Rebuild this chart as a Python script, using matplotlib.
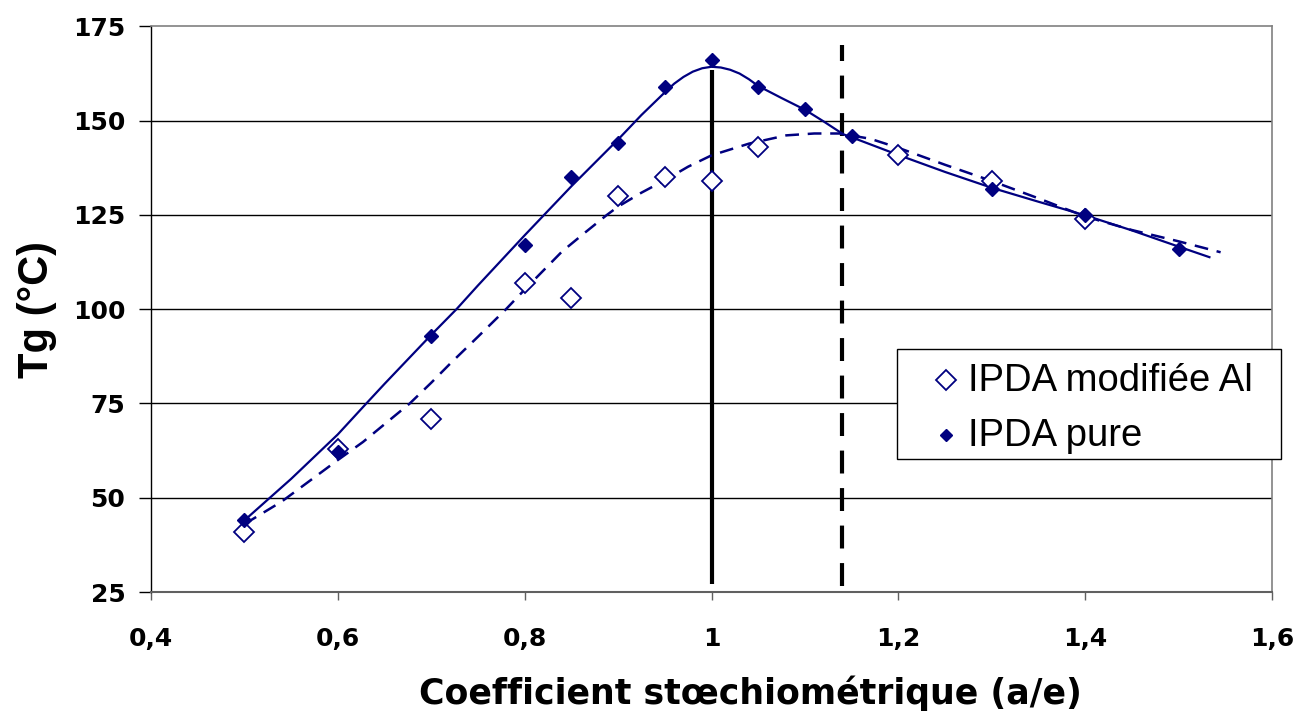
import matplotlib
matplotlib.use("Agg")
import matplotlib.pyplot as plt
from matplotlib.lines import Line2D
from matplotlib.patches import Rectangle

plt.rcParams['font.family'] = ['Liberation Sans', 'DejaVu Sans']

# Measured points
x_pure = [0.5, 0.6, 0.7, 0.8, 0.85, 0.9, 0.95, 1.0, 1.05, 1.1, 1.15, 1.3, 1.4, 1.5]
y_pure = [44, 62, 93, 117, 135, 144, 159, 166, 159, 153, 146, 132, 125, 116]
x_mod = [0.5, 0.6, 0.7, 0.8, 0.85, 0.9, 0.95, 1.0, 1.05, 1.2, 1.3, 1.4]
y_mod = [41, 63, 71, 107, 103, 130, 135, 134, 143, 141, 134, 124]

# Fitted trend curves
x_fit_pure = [0.5, 0.55, 0.6, 0.629, 0.65, 0.7, 0.727, 0.75, 0.8, 0.82, 0.85, 0.9, 0.925,
              0.95, 0.96, 0.97, 0.98, 0.99, 1.0, 1.01, 1.02, 1.03, 1.04, 1.05, 1.075,
              1.1, 1.12, 1.141, 1.15, 1.2, 1.25, 1.3, 1.35, 1.4, 1.45, 1.5, 1.533]
y_fit_pure = [44, 55.0, 66.8, 74.6, 80.2, 93.2, 100, 106.3, 119.6, 124.8, 132.6, 145, 151.5,
              157.5, 159.8, 161.6, 163.0, 163.9, 164.3, 164.1, 163.5, 162.5, 161.0, 159.2, 156.0,
              152.9, 149.8, 146.4, 145.6, 140.9, 136.4, 132.2, 128.5, 124.9, 120.9, 116.6, 113.8]
x_fit_mod = [0.5, 0.54, 0.6, 0.627, 0.65, 0.677, 0.7, 0.72, 0.75, 0.78, 0.8, 0.84, 0.865,
             0.888, 0.9, 0.925, 0.95, 0.975, 1.0, 1.04, 1.08, 1.11, 1.137, 1.17, 1.2, 1.25,
             1.3, 1.35, 1.4, 1.45, 1.5, 1.545]
y_fit_mod = [43, 49, 60, 64.8, 69.5, 75, 80.5, 85.5, 92.7, 100, 105.2, 115.3, 120.4,
             125, 127.2, 130.9, 134.2, 137.8, 140.8, 143.9, 146.1, 146.6, 146.6, 145.2, 142.8, 138.3,
             134, 129.4, 124.6, 121, 118, 115.1]

# Reference vertical lines
x_stoich = 1.0
y_stoich = [27, 163.5]
x_shift = 1.14
y_shift = [26.5, 170]

x_ticks = [0.4, 0.6, 0.8, 1.0, 1.2, 1.4, 1.6]
x_tick_labels = ['0,4', '0,6', '0,8', '1', '1,2', '1,4', '1,6']
y_ticks = [25, 50, 75, 100, 125, 150, 175]

legend_labels = ['IPDA modifiée Al', 'IPDA pure']

navy = '#000080'
W, H = 1299, 715

fig = plt.figure(figsize=(W / 100, H / 100), dpi=100)
ax = fig.add_axes([151 / W, 1 - 592 / H, (1272 - 151) / W, (592 - 26.4) / H])

ax.set_xlim(0.4, 1.6)
ax.set_ylim(25, 175)

for yv in y_ticks[1:-1]:
    ax.axhline(yv, color='black', lw=1.0, zorder=1)

ax.plot(x_fit_pure, y_fit_pure, color=navy, lw=1.6, zorder=3, solid_joinstyle='round')
ax.plot(x_fit_mod, y_fit_mod, color=navy, lw=1.8, ls=(0, (5.5, 3.5)), zorder=3)

ax.plot([x_stoich, x_stoich], y_stoich, color='black', lw=3.0, zorder=2, solid_capstyle='butt')
ax.plot([x_shift, x_shift], y_shift, color='black', lw=3.0, ls=(0, (5.5, 3.5)), zorder=2)

ax.plot(x_mod, y_mod, ls='none', marker='D', ms=10, mfc='white', mec=navy, mew=1.3, zorder=4)
ax.plot(x_pure, y_pure, ls='none', marker='D', ms=7.2, mfc=navy, mec=navy, mew=1, zorder=5)

ax.set_xticks(x_ticks)
ax.set_xticklabels(x_tick_labels)
ax.set_yticks(y_ticks)

for s in ['top', 'right']:
    ax.spines[s].set_color('#808080')
    ax.spines[s].set_linewidth(1.2)
ax.spines['bottom'].set_color('#606060')
ax.spines['bottom'].set_linewidth(1.5)
ax.spines['left'].set_color('black')
ax.spines['left'].set_linewidth(1.0)

ax.tick_params(axis='both', direction='out', width=1, labelsize=18, colors='black')
ax.tick_params(axis='x', length=6, pad=19, color='#606060')
ax.tick_params(axis='y', length=8.5, pad=10)
for lab in ax.get_xticklabels() + ax.get_yticklabels():
    lab.set_fontweight('bold')
    lab.set_fontfamily(['DejaVu Sans'])

ax.set_xlabel('Coefficient stœchiométrique (a/e)', fontsize=25, fontweight='bold',
              family=['DejaVu Sans'])
ax.xaxis.set_label_coords((750 - 151) / 1121, (592 - 676) / 566)
ax.set_ylabel('Tg (°C)', fontsize=30, fontweight='bold')
ax.yaxis.set_label_coords((57 - 151) / 1121, 0.5)

# Legend (drawn as a framed box with markers and text)
bx0, by0, bx1, by1 = 897, 349, 1281, 459
fig.patches.append(Rectangle((bx0 / W, 1 - by1 / H), (bx1 - bx0) / W, (by1 - by0) / H,
                             transform=fig.transFigure, facecolor='white', edgecolor='black',
                             lw=1.0, zorder=10))
leg_marker_x = 946 / W
leg_rows_y = [1 - 380 / H, 1 - 435 / H]
leg_base_y = [1 - 391 / H, 1 - 446 / H]
fig.add_artist(Line2D([leg_marker_x], [leg_rows_y[0]], transform=fig.transFigure, ls='none',
                      marker='D', ms=10, mfc='white', mec=navy, mew=1.3, zorder=11))
fig.add_artist(Line2D([leg_marker_x], [leg_rows_y[1]], transform=fig.transFigure, ls='none',
                      marker='D', ms=6.5, mfc=navy, mec=navy, zorder=11))
for lab, yb in zip(legend_labels, leg_base_y):
    fig.text(968 / W, yb, lab, fontsize=27.5, va='baseline', ha='left', zorder=12)

fig.savefig('out.png', dpi=100)
